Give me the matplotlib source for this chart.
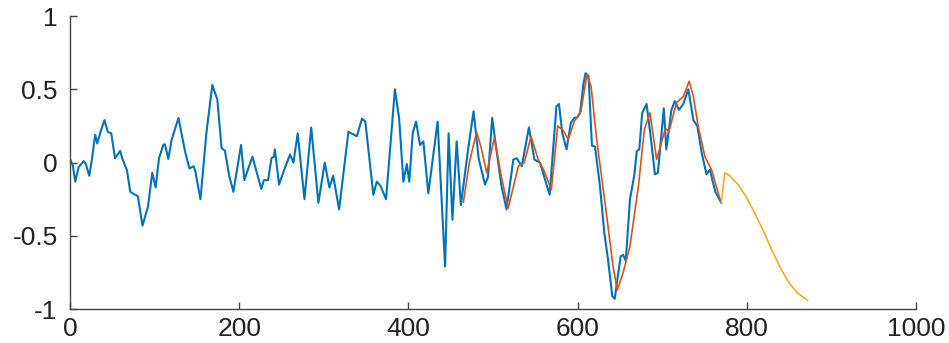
import matplotlib
matplotlib.use('Agg')
import matplotlib.pyplot as plt

plt.rcParams['font.family'] = ['Liberation Sans', 'DejaVu Sans']
plt.rcParams['axes.unicode_minus'] = False

# measured signal (blue)
sig_x = [0, 3, 6, 10, 16, 18.5, 22.5, 25.6, 29.5, 32, 36.6, 40.5, 44.5, 48.5, 53, 59, 62, 67, 71, 77,
         80, 85.5, 92, 97, 101, 105, 110, 112, 116, 120, 128, 136, 141, 146, 148, 154, 161, 168, 174, 179,
         183, 188, 193, 202, 206, 210, 215.5, 226, 229, 234, 238, 241, 242, 247, 253, 260, 264, 269, 277, 285,
         293.5, 301, 306.5, 311, 318, 329, 339, 345, 349, 358.5, 362.5, 367, 373.5, 384, 389, 394, 398, 401, 405, 409,
         413.7, 417.6, 423.5, 434.5, 443.3, 447.5, 452, 457, 462, 471, 477, 483, 490.5, 494, 499, 504, 510, 516, 524, 528,
         534, 542.5, 549, 555.5, 567, 575, 578, 582, 587, 592, 596, 600, 603, 607, 609.5, 613, 617, 620.6, 626.5, 631.6,
         636, 641, 644, 647, 651, 654, 657, 662, 667, 670, 673, 676.5, 681.6, 686, 691.5, 695, 702, 705, 711, 715,
         720, 725, 731, 737, 741.6, 747, 752.5, 756.5, 763, 770]
sig_y = [0.02, -0.02, -0.13, -0.03, 0.01, -0.01, -0.09, 0.02, 0.19, 0.13, 0.225, 0.29, 0.21, 0.2, 0.03, 0.08, 0.02, -0.05, -0.2, -0.22,
         -0.23, -0.43, -0.3, -0.07, -0.17, 0.03, 0.12, 0.125, 0.025, 0.157, 0.305, 0.07, -0.04, -0.025, -0.06, -0.25, 0.2, 0.53, 0.43, 0.1,
         0.08, -0.09, -0.2, 0.12, -0.12, -0.05, 0.04, -0.18, -0.12, -0.12, 0.03, 0.04, 0.09, -0.15, -0.05, 0.055, 0.0, 0.2, -0.25, 0.24,
         -0.275, 0.0, -0.17, -0.09, -0.32, 0.21, 0.18, 0.3, 0.28, -0.22, -0.13, -0.16, -0.25, 0.5, 0.3, -0.13, -0.01, -0.13, 0.2, 0.28,
         0.12, 0.145, -0.21, 0.28, -0.71, 0.2, -0.39, 0.145, -0.29, 0.11, 0.35, 0.03, -0.15, -0.1, 0.305, 0.09, -0.16, -0.32, 0.02, 0.03,
         -0.025, 0.24, 0.02, 0.0, -0.22, 0.385, 0.4, 0.2, 0.09, 0.27, 0.305, 0.31, 0.34, 0.54, 0.61, 0.59, 0.115, 0.11, -0.16, -0.48,
         -0.66, -0.91, -0.93, -0.8, -0.64, -0.63, -0.67, -0.25, -0.09, 0.077, 0.09, 0.34, 0.4, 0.2, -0.08, -0.07, 0.37, 0.09, 0.36, 0.42,
         0.36, 0.4, 0.5, 0.29, 0.25, 0.06, -0.08, -0.05, -0.2, -0.275]

# fitted (orange)
fit_x = [465, 472, 480.6, 486, 492.6, 501.6, 510, 518, 530, 537, 545, 553.5, 560, 569, 576.5, 583, 589, 596, 604, 611,
         616, 622.6, 632.5, 642, 647, 654, 662, 672, 679, 685.6, 693.5, 704, 708, 717, 725, 732, 737, 742.6, 750.6, 758.5, 768.5]
fit_y = [-0.27, 0.0, 0.21, 0.1, -0.07, 0.17, -0.1, -0.31, -0.025, 0.0, 0.18, 0.02, -0.05, -0.185, 0.25, 0.22, 0.157, 0.28, 0.35, 0.6,
         0.52, 0.157, -0.275, -0.71, -0.87, -0.75, -0.57, -0.16, 0.225, 0.34, 0.02, 0.235, 0.21, 0.41, 0.45, 0.555, 0.45, 0.25, 0.04, -0.05, -0.25]

# forecast (yellow)
fc_x = [770, 774, 780, 790, 800, 810, 820, 830, 840, 850, 860, 872]
fc_y = [-0.275, -0.07, -0.09, -0.15, -0.24, -0.35, -0.47, -0.6, -0.72, -0.82, -0.89, -0.94]

fig = plt.figure(figsize=(9.49, 3.43), dpi=100)
ax = fig.add_axes([0.074, 0.099, 0.891, 0.854])

ax.plot(sig_x, sig_y, color='#0072BD', lw=1.5)
ax.plot(fit_x, fit_y, color='#D95319', lw=1.2)
ax.plot(fc_x, fc_y, color='#EDB120', lw=1.2)

ax.set_xlim(0, 1000)
ax.set_ylim(-1, 1)
ax.set_xticks([0, 200, 400, 600, 800, 1000])
ax.set_yticks([-1, -0.5, 0, 0.5, 1])
ax.set_yticklabels(['-1', '-0.5', '0', '0.5', '1'])

for s in ['top', 'right']:
    ax.spines[s].set_visible(False)
for s in ['left', 'bottom']:
    ax.spines[s].set_color('#444444')
    ax.spines[s].set_linewidth(1.0)
ax.tick_params(direction='in', length=5, width=1, colors='#444444', labelcolor='#222222', labelsize=19)
ax.tick_params(axis='x', pad=6)
ax.tick_params(axis='y', pad=9)

fig.savefig('out.png', dpi=100)
